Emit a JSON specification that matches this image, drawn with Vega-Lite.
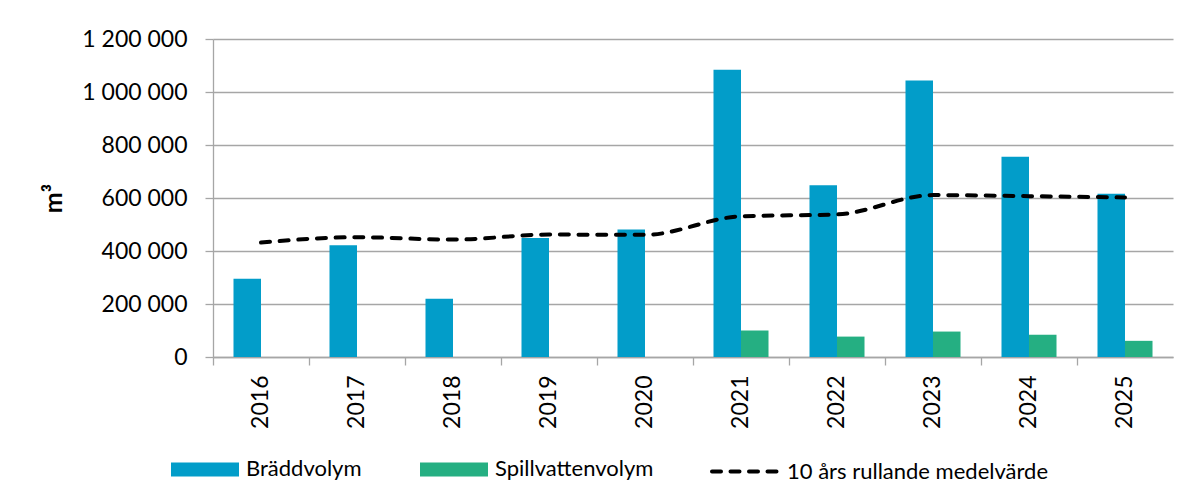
{
  "$schema": "https://vega.github.io/schema/vega-lite/v6.json",
  "width": 960,
  "height": 318,
  "autosize": {"type": "none"},
  "padding": {"left": 213, "top": 39, "right": 21, "bottom": 143},
  "background": "white",
  "config": {"view": {"stroke": null}, "font": "Lato"},
  "data": {
    "values": [
      {"year": "2016", "serie": "Bräddvolym", "value": 295000},
      {"year": "2017", "serie": "Bräddvolym", "value": 422000},
      {"year": "2018", "serie": "Bräddvolym", "value": 220000},
      {"year": "2019", "serie": "Bräddvolym", "value": 449000},
      {"year": "2020", "serie": "Bräddvolym", "value": 481000},
      {"year": "2021", "serie": "Bräddvolym", "value": 1084000},
      {"year": "2022", "serie": "Bräddvolym", "value": 648000},
      {"year": "2023", "serie": "Bräddvolym", "value": 1043000},
      {"year": "2024", "serie": "Bräddvolym", "value": 756000},
      {"year": "2025", "serie": "Bräddvolym", "value": 616000},
      {"year": "2021", "serie": "Spillvattenvolym", "value": 100000},
      {"year": "2022", "serie": "Spillvattenvolym", "value": 77000},
      {"year": "2023", "serie": "Spillvattenvolym", "value": 96000},
      {"year": "2024", "serie": "Spillvattenvolym", "value": 84000},
      {"year": "2025", "serie": "Spillvattenvolym", "value": 61000},
      {"year": "2016", "serie": "10 års rullande medelvärde", "value": 432000},
      {"year": "2017", "serie": "10 års rullande medelvärde", "value": 452000},
      {"year": "2018", "serie": "10 års rullande medelvärde", "value": 443000},
      {"year": "2019", "serie": "10 års rullande medelvärde", "value": 462000},
      {"year": "2020", "serie": "10 års rullande medelvärde", "value": 461000},
      {"year": "2021", "serie": "10 års rullande medelvärde", "value": 531000},
      {"year": "2022", "serie": "10 års rullande medelvärde", "value": 538000},
      {"year": "2023", "serie": "10 års rullande medelvärde", "value": 611000},
      {"year": "2024", "serie": "10 års rullande medelvärde", "value": 607000},
      {"year": "2025", "serie": "10 års rullande medelvärde", "value": 602000}
    ]
  },
  "encoding": {
    "x": {
      "field": "year",
      "type": "ordinal",
      "scale": {"paddingInner": 0, "paddingOuter": 0},
      "axis": {
        "title": null,
        "bandPosition": 0,
        "grid": false,
        "domainColor": "#a6a6a6",
        "domainWidth": 1.3,
        "tickColor": "#a6a6a6",
        "tickWidth": 1.3,
        "tickSize": 8,
        "labelAngle": -90,
        "labelAlign": "right",
        "labelBaseline": "middle",
        "labelPadding": 10,
        "labelFontSize": 23,
        "labelColor": "black",
        "labelFont": "Lato"
      }
    },
    "y": {
      "field": "value",
      "type": "quantitative",
      "scale": {"domain": [0, 1200000], "nice": false},
      "axis": {
        "title": "m³",
        "titleFontSize": 25,
        "titleFontWeight": "bold",
        "titleColor": "black",
        "titleFont": "Lato",
        "titlePadding": 15,
        "values": [0, 200000, 400000, 600000, 800000, 1000000, 1200000],
        "labelExpr": "replace(replace(format(datum.value, ','), ',', ' '), ',', ' ')",
        "labelFontSize": 23,
        "labelColor": "black",
        "labelFont": "Lato",
        "labelPadding": 18,
        "tickSize": 8,
        "tickColor": "#a6a6a6",
        "tickWidth": 1.3,
        "domainColor": "#a6a6a6",
        "domainWidth": 1.3,
        "gridColor": "#a6a6a6",
        "gridWidth": 1.3
      }
    }
  },
  "layer": [
    {
      "transform": [{"filter": "datum.serie !== '10 års rullande medelvärde'"}],
      "mark": {"type": "bar"},
      "encoding": {
        "xOffset": {
          "field": "serie",
          "type": "nominal",
          "scale": {"domain": ["Bräddvolym", "Spillvattenvolym"], "paddingInner": 0, "paddingOuter": 0.745}
        },
        "color": {
          "field": "serie",
          "type": "nominal",
          "scale": {
            "domain": ["Bräddvolym", "Spillvattenvolym", "10 års rullande medelvärde"],
            "range": ["#029dc9", "#25af82", "#000000"]
          },
          "legend": {
            "title": null,
            "orient": "none",
            "direction": "horizontal",
            "legendX": -44,
            "legendY": 394,
            "padding": 0,
            "symbolType": "M-1,-0.206H1V0.206H-1Z",
            "symbolSize": 4624,
            "symbolStrokeWidth": 4,
            "labelFontSize": 22,
            "labelFont": "Lato",
            "labelColor": "black",
            "labelOffset": 5,
            "labelLimit": 0,
            "columnPadding": 50,
            "encode": {
              "symbols": {
                "update": {
                  "size": {"value": 4624},
                  "shape": {"signal": "datum.index === 2 ? 'M-1,0H1' : 'M-1,-0.206H1V0.206H-1Z'"},
                  "fill": {"signal": "datum.index === 2 ? 'transparent' : (datum.index === 0 ? '#029dc9' : '#25af82')"},
                  "stroke": {"signal": "datum.index === 2 ? 'black' : 'transparent'"},
                  "strokeWidth": {"value": 4},
                  "strokeDash": {"signal": "datum.index === 2 ? [9, 9.5] : [1, 0]"},
                  "strokeCap": {"value": "round"},
                  "opacity": {"value": 1}
                }
              }
            }
          }
        }
      }
    },
    {
      "transform": [{"filter": "datum.serie === '10 års rullande medelvärde'"}],
      "mark": {
        "type": "line",
        "color": "black",
        "strokeWidth": 4,
        "strokeDash": [9, 9.7],
        "strokeCap": "round",
        "interpolate": "monotone"
      },
      "encoding": {}
    }
  ]
}
